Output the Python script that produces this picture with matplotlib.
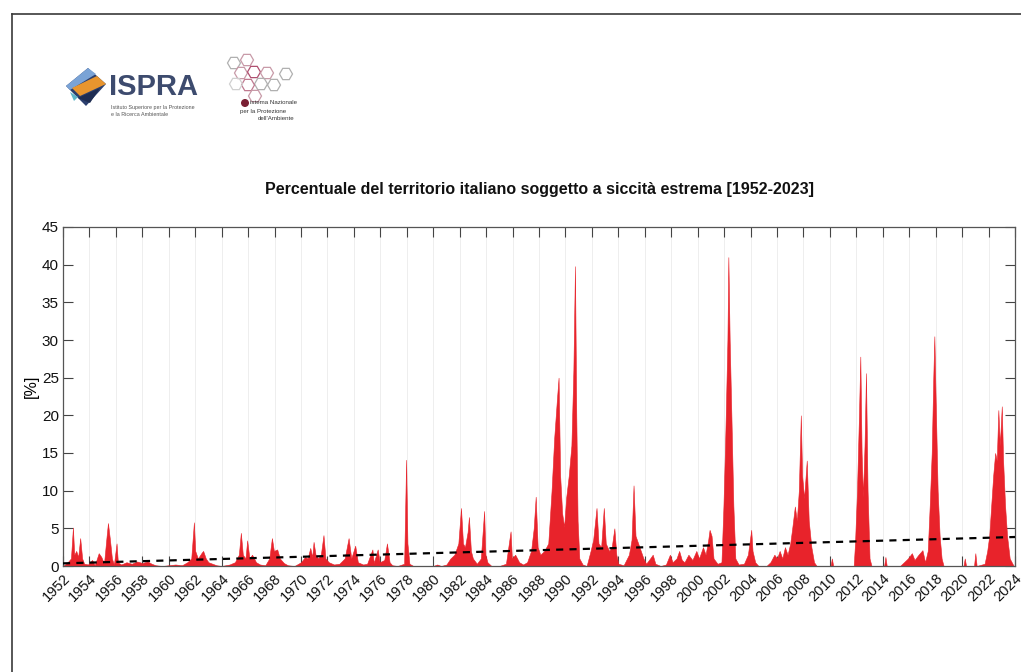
import matplotlib
matplotlib.use("Agg")
import matplotlib.pyplot as plt
from matplotlib.patches import Polygon, RegularPolygon, Circle
import numpy as np

plt.rcParams['font.family'] = ['Liberation Sans', 'DejaVu Sans']

# ---------------- data ----------------
title = "Percentuale del territorio italiano soggetto a siccità estrema [1952-2023]"
ylabel = "[%]"

t_knots = [
    1952.0, 1952.3, 1952.6, 1952.75, 1952.85, 1953.0, 1953.15, 1953.3, 1953.45, 1953.6, 1953.9,
    1954.2, 1954.4, 1954.7, 1954.9, 1955.1, 1955.3, 1955.4, 1955.55, 1955.7, 1955.85, 1956.05,
    1956.15, 1956.4, 1956.8, 1957.2, 1957.6, 1958.0, 1958.4, 1958.7, 1959.0, 1959.5, 1960.0,
    1960.5, 1961.0, 1961.4, 1961.7, 1961.9, 1962.0, 1962.2, 1962.5, 1962.6, 1962.8, 1963.0,
    1963.3, 1963.6, 1964.0, 1964.6, 1965.0, 1965.3, 1965.45, 1965.6, 1965.8, 1965.93, 1966.1,
    1966.3, 1966.6, 1966.9, 1967.3, 1967.6, 1967.8, 1967.95, 1968.2, 1968.4, 1968.7, 1969.0,
    1969.5, 1970.0, 1970.3, 1970.5, 1970.7, 1970.85, 1970.95, 1971.1, 1971.3, 1971.5, 1971.7,
    1971.85, 1972.1, 1972.5, 1972.9, 1973.3, 1973.6, 1973.8, 1974.1, 1974.3, 1974.7, 1975.0,
    1975.4, 1975.5, 1975.8, 1975.95, 1976.3, 1976.5, 1976.7, 1976.9, 1977.3, 1977.8, 1977.95,
    1978.05, 1978.2, 1978.5, 1980.0, 1980.3, 1980.6, 1981.0, 1981.3, 1981.6, 1981.9, 1982.1,
    1982.25, 1982.4, 1982.6, 1982.7, 1982.85, 1983.0, 1983.3, 1983.6, 1983.85, 1983.95, 1984.1,
    1984.4, 1985.0, 1985.5, 1985.85, 1985.95, 1986.2, 1986.5, 1986.8, 1987.1, 1987.4, 1987.6,
    1987.75, 1987.9, 1988.1, 1988.4, 1988.7, 1988.95, 1989.15, 1989.35, 1989.48, 1989.6, 1989.75,
    1989.9, 1990.05, 1990.25, 1990.45, 1990.6, 1990.72, 1990.82, 1990.92, 1991.05, 1991.3, 1991.6,
    1991.9, 1992.1, 1992.35, 1992.5, 1992.7, 1992.9, 1993.05, 1993.3, 1993.5, 1993.7, 1993.85,
    1994.0, 1994.4, 1994.8, 1995.0, 1995.15, 1995.3, 1995.5, 1995.7, 1995.9, 1996.1, 1996.4,
    1996.6, 1996.8, 1997.2, 1997.6, 1997.9, 1998.1, 1998.4, 1998.6, 1998.8, 1999.0, 1999.3,
    1999.6, 1999.9, 2000.1, 2000.4, 2000.6, 2000.8, 2000.9, 2001.05, 2001.2, 2001.5, 2001.8,
    2001.95, 2002.1, 2002.25, 2002.32, 2002.42, 2002.55, 2002.7, 2002.85, 2003.1, 2003.5, 2003.8,
    2004.05, 2004.15, 2004.35, 2004.6, 2005.2, 2005.5, 2005.8, 2006.0, 2006.2, 2006.4, 2006.6,
    2006.8, 2007.0, 2007.15, 2007.35, 2007.5, 2007.65, 2007.8, 2007.9, 2008.05, 2008.25, 2008.4,
    2008.6, 2008.8, 2009.0, 2010.05, 2010.15, 2010.25, 2011.8, 2011.9, 2012.05, 2012.2, 2012.3,
    2012.4, 2012.5, 2012.62, 2012.73, 2012.85, 2013.0, 2013.15, 2014.1, 2014.2, 2014.3, 2015.3,
    2015.6, 2015.9, 2016.2, 2016.4, 2016.7, 2017.0, 2017.2, 2017.4, 2017.55, 2017.7, 2017.82,
    2017.9, 2018.0, 2018.15, 2018.3, 2018.45, 2018.6, 2020.1, 2020.2, 2020.3, 2020.9, 2021.0,
    2021.1, 2021.7, 2021.9, 2022.05, 2022.2, 2022.35, 2022.5, 2022.62, 2022.74, 2022.85, 2023.0,
    2023.1, 2023.25, 2023.4, 2023.6, 2023.9,
]
pct_knots = [
    0.0, 0.4, 1.0, 5.1, 1.5, 2.0, 1.2, 3.7, 1.0, 0.3, 0.2,
    0.8, 0.1, 1.7, 1.2, 0.3, 4.0, 5.7, 3.5, 1.0, 0.2, 3.0,
    0.5, 0.2, 0.5, 0.3, 0.6, 0.4, 0.6, 0.3, 0.1, 0.0, 0.1,
    0.2, 0.1, 0.5, 1.0, 5.8, 2.0, 1.0, 1.8, 2.0, 1.0, 0.5,
    0.3, 0.1, 0.0, 0.2, 0.5, 1.5, 4.4, 1.5, 1.0, 3.4, 1.0,
    1.5, 0.5, 0.2, 0.1, 1.0, 3.7, 2.0, 2.2, 1.0, 0.4, 0.1,
    0.0, 0.5, 1.2, 1.0, 2.4, 1.2, 3.2, 1.5, 1.0, 1.5, 4.1,
    1.0, 0.5, 0.2, 0.3, 1.0, 3.7, 1.0, 2.7, 0.5, 0.2, 0.3,
    2.2, 0.4, 2.2, 0.5, 0.8, 3.0, 0.5, 0.1, 0.0, 0.3, 14.1,
    3.0, 0.3, 0.0, 0.0, 0.2, 0.0, 0.2, 1.0, 1.5, 3.0, 7.7,
    3.0, 2.5, 4.5, 6.5, 2.0, 1.0, 0.3, 1.0, 7.3, 1.5, 0.5,
    0.0, 0.0, 0.3, 4.6, 1.0, 1.5, 0.5, 0.2, 0.5, 2.0, 5.0,
    9.2, 2.5, 1.5, 2.0, 3.0, 10.0, 17.0, 22.0, 25.0, 12.0, 7.0,
    5.2, 9.0, 12.0, 16.0, 26.0, 39.8, 20.0, 6.0, 1.0, 0.2, 0.0,
    2.0, 3.5, 7.7, 3.0, 2.5, 7.7, 3.0, 2.0, 2.5, 5.0, 1.5,
    0.3, 0.1, 1.5, 3.5, 10.7, 4.0, 3.0, 2.0, 1.0, 0.3, 1.0,
    1.5, 0.3, 0.0, 0.2, 1.5, 0.5, 1.0, 2.0, 0.8, 0.5, 1.5,
    0.8, 2.0, 1.0, 2.5, 1.5, 3.5, 4.8, 4.0, 1.0, 0.3, 0.5,
    8.0, 18.0, 30.0, 41.0, 30.0, 20.0, 8.0, 1.0, 0.2, 0.3, 1.5,
    4.8, 2.0, 0.5, 0.0, 0.0, 0.5, 1.5, 1.0, 2.0, 1.0, 2.5,
    1.5, 3.0, 5.0, 7.9, 6.0, 10.0, 20.0, 12.0, 9.0, 14.0, 6.0,
    2.5, 0.5, 0.0, 0.0, 1.0, 0.0, 0.0, 3.0, 10.0, 20.0, 27.8,
    15.0, 9.2, 16.0, 25.6, 10.0, 1.0, 0.0, 0.0, 1.2, 0.0, 0.0,
    0.5, 1.0, 1.7, 0.8, 1.5, 2.1, 0.5, 2.0, 8.0, 15.0, 25.0,
    30.5, 22.0, 10.0, 4.0, 1.0, 0.0, 0.0, 1.0, 0.0, 0.0, 1.7,
    0.0, 0.3, 2.0, 4.0, 8.0, 12.0, 15.0, 14.0, 20.7, 16.0, 21.2,
    14.0, 8.0, 4.0, 1.0, 0.0,
]

trend_years = [1952, 2024]
trend_values = [0.35, 3.85]

x_ticks = list(range(1952, 2025, 2))
y_ticks = list(range(0, 46, 5))

# ---------------- figure ----------------
W, H = 1021, 672
fig = plt.figure(figsize=(W / 100, H / 100), dpi=100)
fig.patch.set_facecolor('white')

# overlay in pixel coordinates for frame + logos
ov = fig.add_axes([0, 0, 1, 1], zorder=0)
ov.set_xlim(0, W)
ov.set_ylim(H, 0)
ov.axis('off')

# figure frame (open at right/bottom edges)
ov.plot([12, 12], [14, H], color='#3a3a3a', lw=1.2)
ov.plot([12, W], [14, 14], color='#3a3a3a', lw=1.2)

# ISPRA logo (approximation)
ov.add_patch(Polygon([[66, 86], [88, 68], [106, 84], [86, 106]], closed=True,
                     color='#2b3f6e', lw=0))
ov.add_patch(Polygon([[66, 86], [88, 68], [96, 74], [70, 90]], closed=True,
                     color='#7aa3d6', lw=0))
ov.add_patch(Polygon([[72, 88], [97, 76], [106, 84], [80, 96]], closed=True,
                     color='#e8952e', lw=0))
ov.add_patch(Polygon([[78, 98], [100, 88], [90, 103]], closed=True,
                     color='#1e2d52', lw=0))
ov.add_patch(Polygon([[70, 92], [78, 97], [74, 101]], closed=True,
                     color='#5fb6c8', lw=0))
ov.text(109, 87, "ISPRA", fontsize=21, fontweight='bold', color='#3d4b6e',
        va='center', ha='left')
ov.text(111, 107, "Istituto Superiore per la Protezione", fontsize=3.9,
        color='#555555', va='center', ha='left')
ov.text(111, 114, "e la Ricerca Ambientale", fontsize=3.9,
        color='#555555', va='center', ha='left')

# SNPA logo (approximation)
hex_centers = [(234, 63), (247, 60), (241, 73), (254, 72), (267, 73),
               (261, 84), (248, 85), (274, 85), (286, 74), (255, 96), (236, 84)]
hex_cols = ['#b0b0b0', '#c89aa8', '#c89aa8', '#b05070', '#c89aa8',
            '#b0b0b0', '#c07a90', '#b0b0b0', '#b0b0b0', '#c89aa8', '#d0d0d0']
for (cx, cy), c in zip(hex_centers, hex_cols):
    ov.add_patch(RegularPolygon((cx, cy), numVertices=6, radius=6.5,
                                orientation=np.pi / 6, fill=False,
                                edgecolor=c, lw=0.9))
ov.add_patch(Circle((245, 103), 4, color='#7a1f33', lw=0))
ov.text(250, 103, "istema Nazionale", fontsize=4.4, color='#333333',
        va='center', ha='left')
ov.text(240, 111, "per la Protezione", fontsize=4.4, color='#333333',
        va='center', ha='left')
ov.text(258, 118, "dell'Ambiente", fontsize=4.4, color='#333333',
        va='center', ha='left')

# main axes
ax = fig.add_axes([63 / W, 1 - 566 / H, 952 / W, 339 / H], zorder=1)
ax.set_facecolor('none')

red = '#e8232b'
ax.fill_between(t_knots, 0, pct_knots, color=red, lw=0.4, edgecolor=red, zorder=2)
ax.plot(trend_years, trend_values, color='black', lw=1.6,
        dashes=(3.2, 2.8), zorder=3)

ax.set_xlim(1952, 2024)
ax.set_ylim(0, 45)
ax.set_xticks(x_ticks)
ax.set_xticklabels([str(v) for v in x_ticks], rotation=45, ha='right',
                   va='top', rotation_mode='anchor', fontsize=10.5)
ax.set_yticks(y_ticks)
ax.set_yticklabels([str(v) for v in y_ticks], fontsize=11)

ax.grid(axis='x', color='#ebebeb', lw=0.6, zorder=0)
ax.set_axisbelow(True)
ax.tick_params(direction='in', length=7, width=0.8, color='#444444',
               top=True, right=True, labelcolor='#111111', pad=3)
ax.tick_params(axis='x', pad=4)
for s in ax.spines.values():
    s.set_color('#555555')
    s.set_linewidth(0.9)

ax.set_title(title, fontsize=11.5, fontweight='bold', pad=24, color='#111111')
ax.set_ylabel(ylabel, fontsize=11.5, labelpad=0)
ax.yaxis.set_label_coords(-0.025, 0.53)

fig.savefig('out.png', dpi=100, facecolor='white')
